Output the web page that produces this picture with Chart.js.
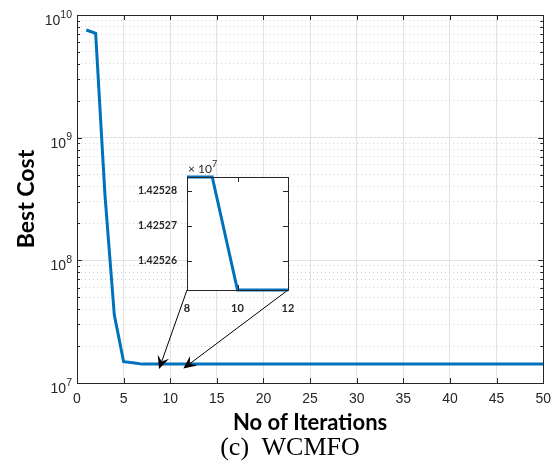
<!DOCTYPE html>
<html>
<head>
<meta charset="utf-8">
<script src="https://cdn.jsdelivr.net/npm/chart.js@4.4.1/dist/chart.umd.min.js"></script>
<style>
  body { margin: 0; background: #fff; }
  #wrap { position: relative; width: 559px; height: 465px; overflow: hidden; }
  #main { position: absolute; left: 0; top: 0; }
  #inset { position: absolute; left: 130px; top: 155px; }
  #caption { position: absolute; left: 0; width: 580px; top: 432px; text-align: center;
    font-family: "Liberation Serif"; font-size: 26px; line-height: 30px; white-space: pre; color: #000; }
</style>
</head>
<body>
<div id="wrap">
  <canvas id="main" width="559" height="465"></canvas>
  <canvas id="inset" width="170" height="160"></canvas>
  <div id="caption">(c)  WCMFO</div>
</div>
<script>
var iterations = [1, 2, 3, 4, 5, 6, 7, 8, 9, 10,
  11, 12, 13, 14, 15, 16, 17, 18, 19, 20,
  21, 22, 23, 24, 25, 26, 27, 28, 29, 30,
  31, 32, 33, 34, 35, 36, 37, 38, 39, 40,
  41, 42, 43, 44, 45, 46, 47, 48, 49, 50];
var bestCost = [7.55e9, 7.09e9, 3.4e8, 3.6e7, 1.49e7, 1.46e7, 14252840, 14252840, 14252840, 14252516,
  14252516, 14252516, 14252516, 14252516, 14252516, 14252516, 14252516, 14252516, 14252516, 14252516,
  14252516, 14252516, 14252516, 14252516, 14252516, 14252516, 14252516, 14252516, 14252516, 14252516,
  14252516, 14252516, 14252516, 14252516, 14252516, 14252516, 14252516, 14252516, 14252516, 14252516,
  14252516, 14252516, 14252516, 14252516, 14252516, 14252516, 14252516, 14252516, 14252516, 14252516];

var xTicks = [0, 5, 10, 15, 20, 25, 30, 35, 40, 45, 50];
var yMajorTicks = [1e7, 1e8, 1e9, 1e10];
var yExponents = ["7", "8", "9", "10"];
var yMinorTicks = [2e7, 3e7, 4e7, 5e7, 6e7, 7e7, 8e7, 9e7,
  2e8, 3e8, 4e8, 5e8, 6e8, 7e8, 8e8, 9e8,
  2e9, 3e9, 4e9, 5e9, 6e9, 7e9, 8e9, 9e9];

var insetXTicks = [8, 10, 12];
var insetYTicks = [14252600, 14252700, 14252800];
var insetYLabels = ["1.42526", "1.42527", "1.42528"];

var blue = "#0072BD";
var axisCol = "#262626";

function points(lo, hi) {
  var pts = [];
  for (var i = 0; i < iterations.length; i++) {
    if (iterations[i] >= lo && iterations[i] <= hi) pts.push({ x: iterations[i], y: bestCost[i] });
  }
  return pts;
}

// inward tick marks and box, MATLAB style
function drawFrame(chart, xs, ys, yMinor) {
  var ctx = chart.ctx, a = chart.chartArea;
  var sx = chart.scales.x, sy = chart.scales.y;
  ctx.save();
  ctx.strokeStyle = axisCol;
  ctx.lineWidth = 1;
  ctx.beginPath();
  xs.forEach(function (v) {
    var px = Math.round(sx.getPixelForValue(v)) + 0.5;
    ctx.moveTo(px, a.bottom); ctx.lineTo(px, a.bottom - 5);
    ctx.moveTo(px, a.top); ctx.lineTo(px, a.top + 5);
  });
  ys.forEach(function (v) {
    var py = Math.round(sy.getPixelForValue(v)) + 0.5;
    ctx.moveTo(a.left, py); ctx.lineTo(a.left + 5, py);
    ctx.moveTo(a.right, py); ctx.lineTo(a.right - 5, py);
  });
  (yMinor || []).forEach(function (v) {
    var py = Math.round(sy.getPixelForValue(v)) + 0.5;
    ctx.moveTo(a.left, py); ctx.lineTo(a.left + 3, py);
    ctx.moveTo(a.right, py); ctx.lineTo(a.right - 3, py);
  });
  ctx.stroke();
  ctx.strokeRect(Math.round(a.left) + 0.5, Math.round(a.top) + 0.5,
    Math.round(a.right - a.left), Math.round(a.bottom - a.top));
  ctx.restore();
}

// "10" with a raised exponent, right-aligned against the axis
function drawPowerLabels(chart) {
  var ctx = chart.ctx, a = chart.chartArea, sy = chart.scales.y;
  ctx.save();
  ctx.fillStyle = axisCol;
  ctx.textBaseline = "alphabetic";
  ctx.textAlign = "right";
  yMajorTicks.forEach(function (v, i) {
    var py = sy.getPixelForValue(v);
    var xr = a.left - 5;
    ctx.font = "10.5px 'Liberation Sans'";
    ctx.fillText(yExponents[i], xr, py + 2.5);
    var ew = ctx.measureText(yExponents[i]).width;
    ctx.font = "14px 'Liberation Sans'";
    ctx.fillText("10", xr - ew, py + 10);
  });
  ctx.restore();
}

function drawArrow(ctx, x0, y0, x1, y1) {
  var ang = Math.atan2(y1 - y0, x1 - x0);
  var len = 13, wid = 6;
  ctx.save();
  ctx.strokeStyle = "#000";
  ctx.fillStyle = "#000";
  ctx.lineWidth = 1;
  ctx.beginPath();
  ctx.moveTo(x0, y0);
  ctx.lineTo(x1 - Math.cos(ang) * len * 0.6, y1 - Math.sin(ang) * len * 0.6);
  ctx.stroke();
  ctx.translate(x1, y1);
  ctx.rotate(ang);
  ctx.beginPath();
  ctx.moveTo(0, 0);
  ctx.lineTo(-len, -wid);
  ctx.lineTo(-len * 0.62, 0);
  ctx.lineTo(-len, wid);
  ctx.closePath();
  ctx.fill();
  ctx.restore();
}

var insetPts = points(8, 12);
var insetVals = insetPts.map(function (p) { return p.y; });

var insetChart = new Chart(document.getElementById("inset"), {
  type: "line",
  data: {
    datasets: [{
      data: insetPts,
      borderColor: blue,
      borderWidth: 3,
      pointRadius: 0,
      tension: 0,
      clip: false
    }]
  },
  options: {
    responsive: false,
    animation: false,
    layout: { padding: { left: 0, top: 22, right: 12, bottom: 0 } },
    plugins: { legend: { display: false }, tooltip: { enabled: false } },
    scales: {
      x: {
        type: "linear", min: 8, max: 12,
        afterBuildTicks: function (s) { s.ticks = insetXTicks.map(function (v) { return { value: v }; }); },
        afterFit: function (s) { s.height = 25; },
        grid: { display: false },
        border: { display: false },
        ticks: { font: { family: "Lato", size: 11, weight: "bold" }, color: axisCol, padding: 4, maxRotation: 0 }
      },
      y: {
        type: "linear",
        min: Math.min.apply(null, insetVals),
        max: Math.max.apply(null, insetVals),
        afterBuildTicks: function (s) { s.ticks = insetYTicks.map(function (v) { return { value: v }; }); },
        afterFit: function (s) { s.width = 57; },
        grid: { display: false },
        border: { display: false },
        ticks: {
          callback: function (v, i) { return insetYLabels[i]; },
          font: { family: "Lato", size: 10.5, weight: "bold" }, color: axisCol, padding: 2
        }
      }
    }
  },
  plugins: [{
    id: "insetFrame",
    beforeDraw: function (chart) {
      var a = chart.chartArea, ctx = chart.ctx;
      ctx.save();
      ctx.fillStyle = "#fff";
      ctx.fillRect(a.left, a.top, a.right - a.left, a.bottom - a.top);
      ctx.restore();
    },
    afterDraw: function (chart) {
      drawFrame(chart, insetXTicks, insetYTicks, null);
      var ctx = chart.ctx, a = chart.chartArea;
      ctx.save();
      ctx.fillStyle = axisCol;
      ctx.textBaseline = "alphabetic";
      ctx.font = "12px Lato";
      ctx.fillText("\u00d7 10", a.left + 1, a.top - 4);
      var w = ctx.measureText("\u00d7 10").width;
      ctx.font = "9px Lato";
      ctx.fillText("7", a.left + 1 + w, a.top - 10);
      ctx.restore();
    }
  }]
});

var insetCanvas = document.getElementById("inset");

new Chart(document.getElementById("main"), {
  type: "line",
  data: {
    datasets: [{
      data: points(1, 50),
      borderColor: blue,
      borderWidth: 3,
      pointRadius: 0,
      tension: 0
    }]
  },
  options: {
    responsive: false,
    animation: false,
    layout: { padding: { left: 0, top: 15, right: 11, bottom: 0 } },
    plugins: { legend: { display: false }, tooltip: { enabled: false } },
    scales: {
      x: {
        type: "linear", min: 0, max: 50,
        afterBuildTicks: function (s) { s.ticks = xTicks.map(function (v) { return { value: v }; }); },
        afterFit: function (s) { s.height = 82; },
        grid: { color: "#e3e3e3", drawTicks: false },
        border: { display: false },
        ticks: { font: { family: "Liberation Sans", size: 14 }, color: axisCol, padding: 8, maxRotation: 0 },
        title: {
          display: true, text: "No of Iterations", color: "#000",
          font: { family: "Lato", size: 22, weight: "bold" },
          padding: { top: 0, bottom: 29 }
        }
      },
      y: {
        type: "logarithmic", min: 1e7, max: 1e10, position: "left",
        afterBuildTicks: function (s) { s.ticks = yMajorTicks.map(function (v) { return { value: v }; }); },
        afterFit: function (s) { s.width = 77; },
        grid: { color: "#e3e3e3", drawTicks: false },
        border: { display: false },
        ticks: { callback: function () { return ""; } },
        title: {
          display: true, text: "Best Cost", color: "#000",
          font: { family: "Lato", size: 23, weight: "bold" },
          padding: { top: 13, bottom: 0 }
        }
      },
      yMinor: {
        type: "logarithmic", min: 1e7, max: 1e10, position: "left",
        afterBuildTicks: function (s) { s.ticks = yMinorTicks.map(function (v) { return { value: v }; }); },
        afterFit: function (s) { s.width = 0; },
        grid: { color: "#d2d2d2", drawTicks: false },
        border: { display: false, dash: [1, 3] },
        ticks: { display: false }
      }
    }
  },
  plugins: [{
    id: "mainFrame",
    afterDraw: function (chart) {
      drawFrame(chart, xTicks, yMajorTicks, yMinorTicks);
      drawPowerLabels(chart);
      var ia = insetChart.chartArea;
      var ox = insetCanvas.offsetLeft, oy = insetCanvas.offsetTop;
      var sx = chart.scales.x, sy = chart.scales.y;
      drawArrow(chart.ctx, ox + ia.left, oy + ia.bottom, sx.getPixelForValue(8.8), sy.getPixelForValue(1.30e7));
      drawArrow(chart.ctx, ox + ia.right, oy + ia.bottom, sx.getPixelForValue(11.4), sy.getPixelForValue(1.31e7));
    }
  }]
});
</script>
</body>
</html>
